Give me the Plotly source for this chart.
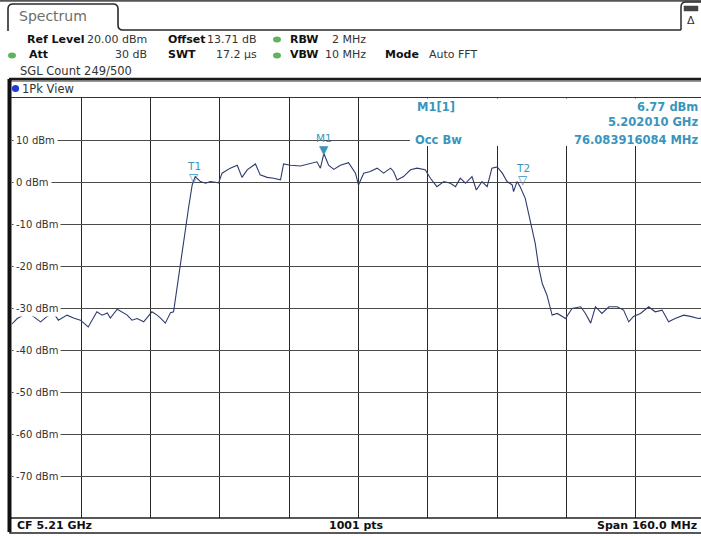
import plotly.graph_objects as go

# ---------------- data ----------------
freq_mhz = [5130.0, 5131.2, 5133.5, 5134.9, 5136.6, 5138.1, 5139.6, 5140.7, 5142.7, 5144.2,
            5145.8, 5147.6, 5149.6, 5150.8, 5152.0, 5152.7, 5154.3, 5155.4, 5156.6, 5157.7,
            5158.9, 5160.4, 5162.3, 5163.5, 5164.3, 5165.4, 5166.6, 5167.3, 5168.1, 5169.3,
            5170.0, 5170.8, 5171.6, 5172.3, 5173.5, 5174.7, 5175.8, 5177.7, 5178.5, 5180.4,
            5182.0, 5183.1, 5184.3, 5186.2, 5187.3, 5188.9, 5190.4, 5192.0, 5192.7, 5194.3,
            5196.6, 5198.9, 5200.4, 5201.2, 5202.0, 5203.1, 5204.3, 5205.8, 5207.7, 5209.3,
            5210.0, 5211.2, 5212.7, 5214.3, 5215.8, 5217.4, 5218.1, 5218.9, 5220.4, 5222.0,
            5223.5, 5225.4, 5226.6, 5228.1, 5229.7, 5231.2, 5232.4, 5233.5, 5234.7, 5236.2,
            5237.2, 5238.5, 5239.7, 5240.8, 5242.0, 5243.2, 5244.3, 5245.5, 5245.8, 5246.6,
            5247.3, 5248.5, 5249.6, 5250.8, 5251.6, 5252.4, 5253.5, 5254.7, 5255.9, 5257.8,
            5259.3, 5261.3, 5262.4, 5263.6, 5264.7, 5266.2, 5267.8, 5269.7, 5271.2, 5272.4,
            5273.5, 5275.1, 5277.0, 5278.5, 5280.1, 5281.6, 5283.1, 5285.1, 5286.6, 5288.5,
            5290.0]
level_dbm = [-33.8, -32.5, -31.2, -32.0, -33.3, -32.0, -31.2, -32.9, -31.7, -32.4,
             -32.9, -34.5, -30.9, -31.7, -31.2, -32.4, -30.3, -30.9, -31.7, -32.9,
             -32.5, -33.3, -30.9, -31.7, -32.4, -33.6, -31.1, -30.9, -24.9, -17.0,
             -11.4, -5.9, -0.7, 1.3, 0.1, -0.3, 0.1, -0.2, 2.1, 3.3,
             4.0, 1.1, 2.9, 4.3, 1.7, 1.1, 0.9, 0.5, 4.3, 4.0,
             3.8, 4.4, 4.8, 3.3, 6.77, 4.0, 3.0, 4.0, 4.6, 2.1,
             -0.7, 2.1, 2.5, 3.3, 2.1, 3.3, 2.5, 0.5, 1.3, 2.9,
             3.3, 2.9, 0.9, -1.1, 0.1, -0.3, -1.1, 0.9, -0.3, 1.3,
             -1.9, 0.1, -1.1, 3.3, 3.6, 2.1, 0.1, -0.7, -2.3, 0.1,
             -1.1, -3.9, -9.0, -14.6, -20.2, -24.1, -26.9, -31.7, -31.3, -32.5,
             -30.1, -29.7, -31.3, -33.6, -29.7, -31.3, -29.7, -29.7, -30.5, -33.3,
             -32.0, -31.3, -29.7, -30.9, -30.5, -33.3, -32.5, -31.7, -32.0, -32.5,
             -32.3]

y_ticks = [10, 0, -10, -20, -30, -40, -50, -60, -70]
y_tick_labels = ["10 dBm", "0 dBm", "-10 dBm", "-20 dBm", "-30 dBm",
                 "-40 dBm", "-50 dBm", "-60 dBm", "-70 dBm"]

marker_names = ["T1", "M1", "T2"]
marker_freq = [5171.96, 5202.01, 5248.04]
marker_level = [0.0, 6.77, -0.5]
marker_filled = [False, True, False]

center_mhz = 5210.0
span_mhz = 160.0

# ---------------- layout helpers ----------------
W, H = 701, 536
L, T, B = 12, 98, 518          # plot area pixel edges (right edge cut by window)
PLOT_W_FULL = 693               # full 10-division width in px
x_lo = center_mhz - span_mhz / 2
x_hi = x_lo + (W - L) * span_mhz / PLOT_W_FULL


def PX(x):
    return (x - L) / (W - L)


def PY(y):
    return (B - y) / (B - T)


FONT = "DejaVu Sans"
TEAL = "#3a95bd"
TRACE = "#2f3b6c"

fig = go.Figure()
fig.add_trace(go.Scatter(x=freq_mhz, y=level_dbm, mode="lines",
                         line=dict(color=TRACE, width=1.1), hoverinfo="skip",
                         showlegend=False))

shapes = []
ann = []


def line(x0, y0, x1, y1, color="#333", width=1):
    shapes.append(dict(type="line", xref="paper", yref="paper",
                       x0=PX(x0), y0=PY(y0), x1=PX(x1), y1=PY(y1),
                       line=dict(color=color, width=width), layer="above"))


def rect(x0, y0, x1, y1, fill="white", color="#333", width=1):
    shapes.append(dict(type="rect", xref="paper", yref="paper",
                       x0=PX(x0), y0=PY(y1), x1=PX(x1), y1=PY(y0),
                       fillcolor=fill, line=dict(color=color, width=width),
                       layer="above"))


def dot(cx, cy, rx, ry, fill):
    shapes.append(dict(type="circle", xref="paper", yref="paper",
                       x0=PX(cx - rx), x1=PX(cx + rx), y0=PY(cy + ry), y1=PY(cy - ry),
                       fillcolor=fill, line=dict(width=0), layer="above"))


def path(points, color="#333", width=1.5):
    s = ""
    for cmd, pts in points:
        s += cmd + " " + " ".join("%f,%f" % (PX(a), PY(b)) for a, b in pts) + " "
    shapes.append(dict(type="path", xref="paper", yref="paper", path=s.strip(),
                       line=dict(color=color, width=width), layer="above"))


def text(x, y, s, size=11, color="#222", bold=False, xanchor="left", bg=None, pad=1):
    d = dict(xref="paper", yref="paper", x=PX(x), y=PY(y), text=("<b>%s</b>" % s) if bold else s,
             showarrow=False, xanchor=xanchor, yanchor="middle",
             font=dict(family=FONT, size=size, color=color), borderpad=pad)
    if bg:
        d["bgcolor"] = bg
    ann.append(d)


BOLD_SZ = 11

# ---- top frame / tab ----
line(0, 0.8, W, 0.8, color="#555", width=2)
path([("M", [(8, 31)]), ("L", [(8, 9)]), ("Q", [(8, 4), (13, 4)]), ("L", [(113, 4)]),
      ("Q", [(118, 4), (118, 9)]), ("L", [(118, 25)]), ("Q", [(118, 30), (123, 30)]),
      ("L", [(681, 30)])], color="#2a2a2a", width=1.6)
path([("M", [(681, 30)]), ("L", [(681, 7)]), ("Q", [(681, 2), (686, 2)]), ("L", [(706, 2)])],
     color="#2a2a2a", width=1.5)
rect(684, 6, 698, 11, fill="#444", color="#444", width=0.5)
text(691, 20, "Δ", size=11, color="#333", xanchor="center")
text(17, 16, "Spectrum", size=14, color="#6e6e6e")

# ---- header lines ----
text(25, 39, "Ref Level", size=BOLD_SZ, color="#111", bold=True)
text(149, 39, "20.00 dBm", color="#333", xanchor="right")
text(166, 39, "Offset", size=BOLD_SZ, color="#111", bold=True)
text(259, 39, "13.71 dB", color="#333", xanchor="right")
dot(277, 39.5, 4, 3, "#62b35a")
text(288, 39, "RBW", size=BOLD_SZ, color="#111", bold=True)
text(368, 39, "2 MHz", color="#333", xanchor="right")

dot(12, 55.5, 4, 3, "#62b35a")
text(27, 55, "Att", size=BOLD_SZ, color="#111", bold=True)
text(149, 55, "30 dB", color="#333", xanchor="right")
text(166, 55, "SWT", size=BOLD_SZ, color="#111", bold=True)
text(259, 55, "17.2 µs", color="#333", xanchor="right")
dot(277, 55.5, 4, 3, "#62b35a")
text(288, 55, "VBW", size=BOLD_SZ, color="#111", bold=True)
text(368, 55, "10 MHz", color="#333", xanchor="right")
text(383, 55, "Mode", size=BOLD_SZ, color="#111", bold=True)
text(427, 55, "Auto FFT", color="#333")

text(18, 71, "SGL Count 249/500", size=11.5, color="#333")

line(9, 79, 706, 79, color="#1a1a1a", width=2.5)

# ---- view bar ----
rect(10, 81, 706, 97.5, fill="white", color="#333", width=1)
dot(15.5, 88.5, 3.6, 3.6, "#1f3ad8")
text(20, 88.5, "1Pk View", size=11.5, color="#333")

# ---- marker info box ----
rect(410, 98.6, 706, 146, fill="white", color="white", width=0)
text(415, 107, "M1[1]", size=11.5, color=TEAL, bold=True)
text(700, 107, "6.77 dBm", size=11.5, color=TEAL, bold=True, xanchor="right")
text(700, 122, "5.202010 GHz", size=11.5, color=TEAL, bold=True, xanchor="right")
text(413, 139.5, "Occ Bw", size=11.5, color=TEAL, bold=True)
text(700, 139.5, "76.083916084 MHz", size=11.5, color=TEAL, bold=True, xanchor="right")

# ---- bottom bar ----
rect(10, 518, 706, 533, fill="white", color="#222", width=1.5)
text(15, 525.5, "CF 5.21 GHz", size=11, color="#111", bold=True)
text(356, 525.5, "1001 pts", size=11, color="#111", bold=True, xanchor="center")
text(699, 525.5, "Span 160.0 MHz", size=11, color="#111", bold=True, xanchor="right")

# ---- left thick border ----
line(9.5, 79, 9.5, 532, color="#111", width=4)

# ---- y labels inside plot ----
for v, lab in zip(y_ticks, y_tick_labels):
    ann.append(dict(xref="paper", yref="y", x=PX(12.5), y=v, text=lab, showarrow=False,
                    xanchor="left", yanchor="middle", bgcolor="white", borderpad=2,
                    font=dict(family=FONT, size=10, color="#333")))

# ---- markers ----
for name, fx, lv, filled in zip(marker_names, marker_freq, marker_level, marker_filled):
    ann.append(dict(xref="x", yref="y", x=fx, y=lv, text="▼" if filled else "▽",
                    showarrow=False, xanchor="center", yanchor="middle", yshift=4,
                    font=dict(family=FONT, size=12, color=TEAL)))
    ann.append(dict(xref="x", yref="y", x=fx, y=lv, text=name,
                    showarrow=False, xanchor="center", yanchor="middle", yshift=16,
                    font=dict(family=FONT, size=10.5, color=TEAL)))

fig.update_layout(
    width=W, height=H, autosize=False,
    margin=dict(l=L, r=0, t=T, b=H - B, pad=0),
    paper_bgcolor="white", plot_bgcolor="white",
    showlegend=False,
    xaxis=dict(range=[x_lo, x_hi], tick0=x_lo, dtick=span_mhz / 10, showgrid=True,
               gridcolor="#2a2a2a", gridwidth=1, zeroline=False, showticklabels=False,
               showline=False, ticks="", fixedrange=True),
    yaxis=dict(range=[-80, 20], tick0=0, dtick=10, showgrid=True,
               gridcolor="#4a4a4a", gridwidth=1, zeroline=False, showticklabels=False,
               showline=False, ticks="", fixedrange=True),
    shapes=shapes, annotations=ann,
)

fig.write_html("out.html", config={"displayModeBar": False, "staticPlot": True},
               post_script="document.body.style.margin='0px';document.body.style.overflow='hidden';")
